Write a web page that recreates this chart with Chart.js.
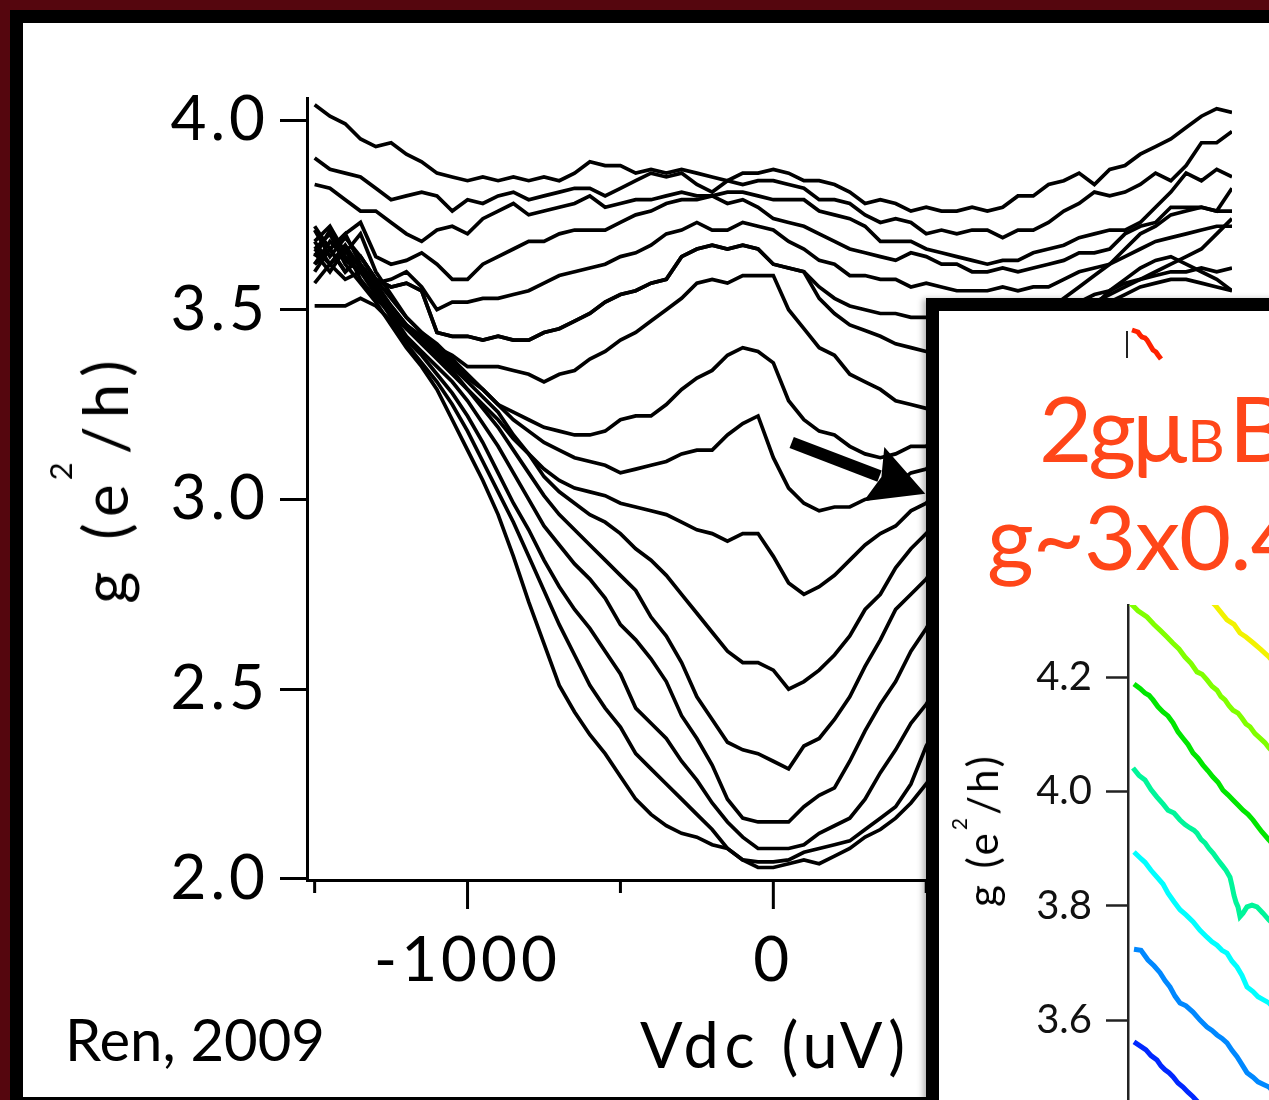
<!DOCTYPE html>
<html>
<head>
<meta charset="utf-8">
<script src="https://cdn.jsdelivr.net/npm/chart.js@4.4.0/dist/chart.umd.min.js"></script>
<style>
html,body{margin:0;padding:0;width:1269px;height:1100px;overflow:hidden;background:#55060e;font-family:Lato,sans-serif;}
#frame{position:absolute;left:10px;top:10px;width:1300px;height:1090px;background:#000;}
#paper{position:absolute;left:23px;top:23px;width:1300px;height:1074px;background:#fff;}
#main{position:absolute;left:0;top:0;}
#inset{position:absolute;left:926px;top:298px;width:420px;height:900px;border:13px solid #000;background:#fff;box-shadow:-4px 0 6px -1px rgba(0,0,0,0.3);}
#insetCanvas{position:absolute;left:0;top:0;}
#topCanvas{position:absolute;left:161px;top:11px;}
.t{position:absolute;white-space:nowrap;line-height:1;color:#000;}
.sup{font-size:0.5em;position:relative;top:-1.8em;margin-left:-4px;}
.sup2{font-size:0.5em;position:relative;top:-1.5em;}
.red{color:#ff4619;}
</style>
</head>
<body>
<div id="frame"></div>
<div id="paper"></div>
<canvas id="main" width="1269" height="1100"></canvas>
<div class="t" id="ytitle" style="left:104px;top:478px;font-size:62px;letter-spacing:8px;transform:translate(-50%,-50%) rotate(-90deg);">g (e<span class="sup">2</span>/h)</div>
<div class="t" style="left:640px;top:1012px;font-size:63px;letter-spacing:5.5px;">Vdc (uV)</div>
<div class="t" style="left:65px;top:1010px;font-size:58px;">Ren, 2009</div>
<div id="inset">
  <canvas id="insetCanvas" width="600" height="800"></canvas>
  <canvas id="topCanvas" width="200" height="45"></canvas>
</div>
<div class="t red" style="left:1039px;top:381px;font-size:92px;letter-spacing:-4px;">2gμ<span style="font-size:58px;letter-spacing:0;margin:0 4px 0 4px;">B</span>B</div>
<div class="t red" style="left:987px;top:490px;font-size:90px;letter-spacing:-1px;">g~3x0.4</div>
<div class="t" style="left:982px;top:830px;font-size:42px;letter-spacing:3px;transform:translate(-50%,-50%) rotate(-90deg);">g (e<span class="sup2">2</span>/h)</div>
<script>
// ---------------- main chart data ----------------
const xs = [-1500,-1450,-1400,-1350,-1300,-1250,-1200,-1150,-1100,-1050,-1000,-950,-900,-850,-800,-750,-700,-650,-600,-550,-500,-450,-400,-350,-300,-250,-200,-150,-100,-50,0,50,100,150,200,250,300,350,400,450,500,550,600,650,700,750,800,850,900,950,1000,1050,1100,1150,1200,1250,1300,1350,1400,1450,1500];

const curveA = [4.04,4.01,3.99,3.95,3.93,3.94,3.91,3.89,3.86,3.85, 3.84,3.85,3.84,3.85,3.84,3.85,3.84,3.86,3.89,3.88, 3.88,3.86,3.87,3.86,3.87,3.86,3.85,3.84,3.86,3.86, 3.87,3.86,3.84,3.84,3.83,3.81,3.78,3.79,3.78,3.76, 3.77,3.76,3.76,3.77,3.76,3.77,3.80,3.80,3.83,3.84, 3.86,3.83,3.87,3.88,3.91,3.93,3.95,3.98,4.01,4.03, 4.02];
const curveB = [3.90,3.87,3.86,3.85,3.82,3.79,3.80,3.81,3.80,3.76, 3.79,3.78,3.80,3.81,3.79,3.80,3.81,3.82,3.82,3.80, 3.82,3.84,3.86,3.85,3.86,3.83,3.81,3.84,3.83,3.84, 3.84,3.83,3.82,3.79,3.79,3.78,3.75,3.73,3.74,3.73, 3.70,3.71,3.70,3.71,3.71,3.69,3.71,3.71,3.73,3.76, 3.78,3.81,3.80,3.81,3.83,3.86,3.84,3.88,3.94,3.94, 3.97];
const curveC = [3.83,3.82,3.79,3.76,3.76,3.73,3.70,3.68,3.71,3.72, 3.70,3.74,3.76,3.78,3.75,3.76,3.77,3.78,3.80,3.77, 3.78,3.79,3.79,3.80,3.81,3.80,3.80,3.81,3.81,3.80, 3.79,3.79,3.79,3.76,3.75,3.74,3.72,3.68,3.68,3.68, 3.66,3.65,3.64,3.63,3.62,3.63,3.63,3.65,3.66,3.67, 3.69,3.70,3.71,3.71,3.73,3.77,3.81,3.86,3.84,3.87, 3.85];
const curveD = [3.72,3.66,3.70,3.73,3.64,3.62,3.63,3.65,3.62,3.58, 3.58,3.62,3.64,3.66,3.68,3.68,3.70,3.71,3.71,3.71, 3.73,3.75,3.76,3.78,3.79,3.79,3.80,3.78,3.79,3.77, 3.74,3.73,3.72,3.70,3.68,3.66,3.65,3.64,3.63,3.65, 3.64,3.62,3.62,3.60,3.60,3.61,3.60,3.61,3.62,3.63, 3.65,3.65,3.66,3.70,3.72,3.73,3.77,3.77,3.77,3.76, 3.82];
const curveE = [3.57,3.62,3.58,3.60,3.57,3.58,3.60,3.56,3.50,3.52, 3.52,3.53,3.53,3.54,3.55,3.57,3.59,3.60,3.61,3.62, 3.64,3.65,3.67,3.70,3.71,3.73,3.71,3.71,3.73,3.72, 3.71,3.68,3.66,3.63,3.62,3.59,3.59,3.58,3.58,3.56, 3.57,3.56,3.55,3.55,3.55,3.56,3.55,3.56,3.56,3.58, 3.60,3.61,3.62,3.66,3.70,3.72,3.75,3.76,3.77,3.76, 3.76];
const curveF = [3.62,3.66,3.60,3.64,3.58,3.56,3.57,3.55,3.44,3.43, 3.43,3.42,3.43,3.42,3.42,3.44,3.45,3.47,3.49,3.52, 3.54,3.55,3.57,3.58,3.64,3.66,3.67,3.66,3.67,3.66, 3.62,3.61,3.60,3.56,3.53,3.51,3.50,3.49,3.49,3.48, 3.48,3.47,3.47,3.46,3.46,3.47,3.47,3.48,3.49,3.50, 3.51,3.52,3.54,3.56,3.58,3.60,3.62,3.64,3.66,3.70, 3.74];
const curveF2 = [3.62,3.66,3.60,3.64,3.58,3.56,3.57,3.55,3.44,3.43, 3.43,3.42,3.43,3.42,3.42,3.44,3.45,3.47,3.49,3.52, 3.54,3.55,3.57,3.58,3.64,3.66,3.67,3.66,3.67,3.66, 3.62,3.61,3.60,3.53,3.49,3.46,3.445,3.43,3.41,3.40, 3.39,3.38,3.38,3.38,3.39,3.40,3.41,3.42,3.43,3.44, 3.45,3.46,3.47,3.48,3.49,3.50,3.50,3.51,3.51,3.52, 3.52];
const curveG = [3.65,3.60,3.66,3.58,3.53,3.49,3.45,3.42,3.40,3.38, 3.35,3.35,3.35,3.34,3.33,3.31,3.33,3.34,3.37,3.39, 3.42,3.44,3.47,3.50,3.53,3.57,3.58,3.57,3.59,3.59, 3.59,3.50,3.45,3.40,3.38,3.33,3.31,3.29,3.26,3.25, 3.24,3.27,3.30,3.34,3.37,3.40,3.43,3.46,3.48,3.50, 3.52,3.54,3.55,3.57,3.58,3.59,3.60,3.60,3.61,3.60, 3.61];
const curveH = [3.68,3.72,3.65,3.70,3.60,3.54,3.48,3.44,3.40,3.36, 3.32,3.29,3.25,3.23,3.21,3.19,3.18,3.17,3.17,3.18, 3.21,3.22,3.22,3.25,3.29,3.32,3.34,3.38,3.40,3.39, 3.36,3.26,3.21,3.18,3.17,3.14,3.12,3.11,3.12,3.14, 3.14,3.19,3.24,3.29,3.34,3.38,3.42,3.46,3.50,3.53, 3.56,3.59,3.62,3.64,3.66,3.68,3.69,3.70,3.71,3.72, 3.72];
const curveI = [3.71,3.64,3.69,3.64,3.58,3.53,3.48,3.44,3.41,3.37, 3.33,3.29,3.25,3.21,3.18,3.15,3.13,3.11,3.10,3.09, 3.07,3.08,3.09,3.10,3.12,3.13,3.13,3.17,3.20,3.22, 3.11,3.03,2.99,2.97,2.98,2.98,3.00,3.01,3.04,3.07, 3.08,3.13,3.18,3.22,3.26,3.30,3.33,3.35,3.37,3.39, 3.40,3.42,3.44,3.46,3.47,3.48,3.49,3.50,3.51,3.51, 3.52];
const curveJ = [3.66,3.62,3.67,3.61,3.56,3.51,3.46,3.42,3.38,3.34, 3.29,3.25,3.21,3.16,3.12,3.08,3.05,3.03,3.02,3.01, 2.99,2.98,2.97,2.96,2.94,2.92,2.91,2.89,2.91,2.91, 2.85,2.78,2.75,2.77,2.80,2.84,2.88,2.91,2.93,2.97, 2.99,3.04,3.09,3.15,3.20,3.26,3.31,3.36,3.40,3.43, 3.46,3.49,3.52,3.54,3.56,3.57,3.58,3.58,3.57,3.56, 3.55];
const curveK = [3.60,3.66,3.70,3.62,3.57,3.51,3.46,3.43,3.39,3.35, 3.31,3.27,3.23,3.17,3.12,3.06,3.02,2.99,2.96,2.94, 2.91,2.87,2.84,2.80,2.75,2.70,2.65,2.60,2.57,2.57, 2.55,2.50,2.52,2.55,2.59,2.64,2.71,2.75,2.82,2.87, 2.91,2.96,3.02,3.08,3.14,3.20,3.26,3.32,3.37,3.42, 3.47,3.51,3.55,3.58,3.61,3.63,3.64,3.62,3.60,3.58, 3.55];
const curveL = [3.62,3.68,3.64,3.60,3.56,3.50,3.45,3.41,3.37,3.33, 3.29,3.24,3.19,3.13,3.07,3.01,2.96,2.92,2.88,2.84, 2.80,2.76,2.69,2.64,2.57,2.48,2.42,2.36,2.34,2.33, 2.31,2.29,2.35,2.37,2.42,2.48,2.56,2.63,2.71,2.75, 2.79,2.85,2.91,2.97,3.03,3.09,3.14,3.19,3.23,3.27, 3.30,3.34,3.38,3.41,3.44,3.46,3.48,3.49,3.50,3.51, 3.52];
const curveM = [3.68,3.62,3.66,3.61,3.55,3.49,3.43,3.39,3.35,3.31, 3.26,3.20,3.14,3.07,3.00,2.93,2.88,2.83,2.79,2.74, 2.67,2.63,2.58,2.52,2.43,2.37,2.30,2.21,2.16,2.15, 2.15,2.15,2.19,2.22,2.24,2.31,2.39,2.46,2.52,2.60, 2.66,2.73,2.80,2.87,2.94,3.00,3.06,3.12,3.17,3.23, 3.28,3.32,3.36,3.39,3.42,3.44,3.46,3.48,3.49,3.50, 3.50];
const curveN = [3.64,3.71,3.63,3.60,3.54,3.48,3.42,3.38,3.33,3.28, 3.22,3.15,3.07,2.99,2.92,2.84,2.77,2.71,2.66,2.60, 2.54,2.45,2.41,2.37,2.31,2.26,2.20,2.15,2.11,2.08, 2.08,2.08,2.09,2.12,2.14,2.16,2.21,2.28,2.34,2.41, 2.46,2.53,2.60,2.67,2.74,2.81,2.87,2.93,2.99,3.07, 3.14,3.19,3.24,3.28,3.32,3.35,3.38,3.41,3.43,3.45, 3.47];
const curveO = [3.51,3.51,3.51,3.53,3.51,3.47,3.41,3.36,3.31,3.25, 3.18,3.10,3.02,2.94,2.85,2.76,2.67,2.59,2.51,2.45, 2.40,2.33,2.29,2.25,2.21,2.17,2.13,2.08,2.05,2.045, 2.045,2.05,2.07,2.08,2.09,2.10,2.13,2.16,2.19,2.25, 2.35,2.42,2.49,2.56,2.63,2.71,2.79,2.87,2.93,2.99, 3.05,3.10,3.15,3.19,3.23,3.27,3.30,3.33,3.36,3.38, 3.40];
const curveP = [3.66,3.70,3.62,3.57,3.52,3.46,3.40,3.35,3.29,3.21, 3.13,3.05,2.96,2.85,2.73,2.62,2.51,2.44,2.38,2.33, 2.27,2.21,2.17,2.14,2.12,2.11,2.09,2.08,2.05,2.03, 2.03,2.04,2.05,2.04,2.06,2.08,2.11,2.13,2.16,2.20, 2.25,2.31,2.38,2.45,2.53,2.61,2.70,2.78,2.86,2.93, 3.00,3.05,3.10,3.14,3.18,3.22,3.25,3.28,3.31,3.33, 3.35];

const xMajorTicks = [-1000, 0, 1000];
const xMinorTicks = [-1500, -500, 500, 1500];
const yTicks = [2.0, 2.5, 3.0, 3.5, 4.0];
const arrowTail = [60, 3.15];
const arrowTip = [497, 3.015];

// ---------------- inset data ----------------
const insetTicks = [3.6, 3.8, 4.0, 4.2];
const yellowX = [77, 87, 99, 106, 112, 118, 125, 133, 141, 162, 192];
const yellowY = [4.343, 4.326, 4.300, 4.292, 4.277, 4.270, 4.260, 4.248, 4.235, 4.195, 4.160];
const limeX = [2, 10, 19, 26, 32, 39, 45, 51, 57, 63, 69, 74, 79, 84, 89, 93, 97, 101, 105, 110, 114, 118, 122, 127, 132, 137, 141, 162];
const limeY = [4.330, 4.316, 4.305, 4.292, 4.282, 4.270, 4.259, 4.249, 4.235, 4.224, 4.209, 4.205, 4.195, 4.184, 4.177, 4.166, 4.160, 4.150, 4.142, 4.137, 4.128, 4.118, 4.113, 4.101, 4.093, 4.085, 4.076, 4.037];
const greenX = [6, 12, 17, 21, 25, 30, 35, 40, 45, 50, 55, 60, 65, 70, 75, 80, 85, 90, 95, 100, 105, 110, 115, 120, 125, 130, 134, 141, 162];
const greenY = [4.188, 4.180, 4.172, 4.168, 4.160, 4.148, 4.139, 4.132, 4.120, 4.104, 4.093, 4.082, 4.067, 4.058, 4.046, 4.036, 4.025, 4.016, 4.002, 3.994, 3.985, 3.976, 3.967, 3.960, 3.950, 3.938, 3.929, 3.915, 3.871];
const springX = [5, 11, 17, 23, 29, 35, 40, 46, 52, 57, 62, 66, 69, 73, 77, 81, 85, 90, 94, 98, 102, 104, 106, 108, 110, 112, 115, 119, 124, 129, 135, 141, 162];
const springY = [4.041, 4.028, 4.020, 4.003, 3.990, 3.978, 3.967, 3.962, 3.950, 3.942, 3.936, 3.932, 3.927, 3.916, 3.910, 3.900, 3.892, 3.880, 3.871, 3.862, 3.850, 3.835, 3.818, 3.806, 3.798, 3.781, 3.787, 3.798, 3.801, 3.798, 3.787, 3.775, 3.740];
const cyanX = [6, 12, 17, 23, 29, 35, 40, 46, 52, 58, 65, 72, 79, 84, 89, 94, 99, 104, 109, 114, 119, 125, 130, 136, 141, 162];
const cyanY = [3.894, 3.884, 3.876, 3.862, 3.850, 3.838, 3.822, 3.807, 3.793, 3.784, 3.772, 3.757, 3.745, 3.737, 3.731, 3.722, 3.717, 3.703, 3.693, 3.678, 3.658, 3.650, 3.641, 3.635, 3.630, 3.592];
const azureX = [6, 13, 20, 26, 32, 37, 42, 47, 52, 58, 65, 72, 79, 84, 89, 94, 99, 104, 109, 114, 119, 125, 130, 136, 141, 162];
const azureY = [3.724, 3.722, 3.705, 3.695, 3.683, 3.669, 3.658, 3.642, 3.630, 3.625, 3.614, 3.600, 3.588, 3.582, 3.574, 3.568, 3.560, 3.547, 3.536, 3.522, 3.508, 3.500, 3.492, 3.487, 3.483, 3.443];
const blueX = [6, 12, 18, 23, 29, 33, 37, 41, 45, 50, 55, 60, 65, 77];
const blueY = [3.562, 3.555, 3.548, 3.538, 3.530, 3.520, 3.513, 3.508, 3.501, 3.490, 3.483, 3.474, 3.466, 3.443];
const redX = [5, 8, 11, 13, 15, 18, 20, 23, 26, 29, 31, 34];
const redY = [27, 26, 25, 22, 20, 19, 17, 12, 7, 5, 2, -2];

Chart.defaults.font.family = 'Lato, sans-serif';
Chart.defaults.color = '#000';

function pts(xArr, yArr){ return yArr.map((v,i)=>({x:xArr[i], y:v})); }
function noPadV(s){ s.paddingTop = 0; s.paddingBottom = 0; }
function noPadH(s){ s.paddingLeft = 0; s.paddingRight = 0; }

const mainCurves = [curveA,curveB,curveC,curveD,curveE,curveF,curveF2,curveG,curveH,curveI,curveJ,curveK,curveL,curveM,curveN,curveO,curveP];

const spacing = {
  id:'spacing',
  beforeDraw(chart){ chart.ctx.letterSpacing = '4px'; },
  afterDraw(chart){ chart.ctx.letterSpacing = '0px'; }
};

const decor = {
  id:'decor',
  afterDraw(chart){
    const {ctx, scales:{x, y}, chartArea} = chart;
    ctx.save();
    ctx.strokeStyle = '#000';
    ctx.lineWidth = 3;
    const b = chartArea.bottom;
    xMajorTicks.forEach(v=>{ const p = x.getPixelForValue(v); ctx.beginPath(); ctx.moveTo(p, b); ctx.lineTo(p, b+29); ctx.stroke(); });
    xMinorTicks.forEach(v=>{ const p = x.getPixelForValue(v); ctx.beginPath(); ctx.moveTo(p, b); ctx.lineTo(p, b+13); ctx.stroke(); });
    // arrow
    const x0 = x.getPixelForValue(arrowTail[0]), y0 = y.getPixelForValue(arrowTail[1]);
    const x1 = x.getPixelForValue(arrowTip[0]), y1 = y.getPixelForValue(arrowTip[1]);
    const dx = x1-x0, dy = y1-y0, len = Math.hypot(dx,dy), ux = dx/len, uy = dy/len;
    const hl = 55, hw = 29;
    const bx = x1-ux*hl, by = y1-uy*hl;
    ctx.lineWidth = 12; ctx.lineCap = 'butt';
    ctx.beginPath(); ctx.moveTo(x0,y0); ctx.lineTo(bx+ux*6, by+uy*6); ctx.stroke();
    ctx.fillStyle = '#000';
    ctx.beginPath(); ctx.moveTo(x1,y1); ctx.lineTo(bx - uy*hw, by + ux*hw); ctx.lineTo(bx + ux*8, by + uy*8); ctx.lineTo(bx + uy*hw, by - ux*hw); ctx.closePath(); ctx.fill();
    ctx.restore();
  }
};

new Chart(document.getElementById('main'), {
  type:'line',
  data:{ datasets: mainCurves.map(c=>({ data: pts(xs, c), borderColor:'#000', borderWidth:3.7, pointRadius:0, tension:0, fill:false, borderJoinStyle:'miter' })) },
  options:{
    responsive:false, animation:false, devicePixelRatio:1,
    layout:{ padding:{ top:98, right:37, left:0, bottom:0 } },
    plugins:{ legend:{display:false}, tooltip:{enabled:false} },
    scales:{
      x:{ type:'linear', min:-1525, max:1500,
        afterFit(s){ s.height = 220; noPadH(s); },
        afterBuildTicks(s){ s.ticks = xMajorTicks.map(v=>({value:v})); },
        grid:{ display:false, drawTicks:false },
        border:{ display:true, color:'#000', width:3 },
        ticks:{ font:{size:62}, color:'#000', padding:44, autoSkip:false, maxRotation:0, callback:v=>String(v) } },
      y:{ type:'linear', min:1.997, max:4.058,
        afterFit(s){ s.width = 307; noPadV(s); },
        afterBuildTicks(s){ s.ticks = yTicks.map(v=>({value:v})); },
        grid:{ display:true, drawOnChartArea:false, drawTicks:true, tickLength:27, tickWidth:3, tickColor:'#000' },
        border:{ display:true, color:'#000', width:3 },
        ticks:{ font:{size:62}, color:'#000', padding:11, callback:v=>Number(v).toFixed(1) } }
    }
  },
  plugins:[spacing, decor]
});

// ---------------- inset chart ----------------
const insetSeries = [
  {x:yellowX, y:yellowY, c:'#f2f200'},
  {x:limeX, y:limeY, c:'#80ff00'},
  {x:greenX, y:greenY, c:'#00e600'},
  {x:springX, y:springY, c:'#00f59a'},
  {x:cyanX, y:cyanY, c:'#00ffff'},
  {x:azureX, y:azureY, c:'#0088ff'},
  {x:blueX, y:blueY, c:'#0028ff'}
];
new Chart(document.getElementById('insetCanvas'), {
  type:'line',
  data:{ datasets: insetSeries.map(s=>({ data: pts(s.x, s.y), borderColor:s.c, borderWidth:5, pointRadius:0, tension:0 })) },
  options:{
    responsive:false, animation:false, devicePixelRatio:1,
    layout:{ padding:{ top:294, right:0, left:0, bottom:0 } },
    plugins:{ legend:{display:false}, tooltip:{enabled:false} },
    scales:{
      x:{ type:'linear', min:0, max:411, display:false },
      y:{ type:'linear', min:3.441, max:4.326,
        afterFit(s){ s.width = 189; noPadV(s); },
        afterBuildTicks(s){ s.ticks = insetTicks.map(v=>({value:v})); },
        grid:{ display:true, drawOnChartArea:false, drawTicks:true, tickLength:22, tickWidth:2.5, tickColor:'#222' },
        border:{ display:true, color:'#222', width:2.5 },
        ticks:{ font:{size:40}, color:'#111', padding:14, callback:v=>Number(v).toFixed(1) } }
    }
  }
});

// ---------------- tiny top panel in inset ----------------
new Chart(document.getElementById('topCanvas'), {
  type:'line',
  data:{ datasets:[{ data: pts(redX, redY), borderColor:'#ff2200', borderWidth:5, pointRadius:0, tension:0, clip:false }] },
  options:{
    responsive:false, animation:false, devicePixelRatio:1,
    layout:{ padding:{ top:10, bottom:10, left:0, right:0 } },
    plugins:{ legend:{display:false}, tooltip:{enabled:false} },
    scales:{
      x:{ type:'linear', min:0, max:173, display:false },
      y:{ type:'linear', min:0, max:25,
        afterFit(s){ s.width = 27; noPadV(s); },
        grid:{ display:false },
        border:{ display:true, color:'#222', width:2 },
        ticks:{ display:false } }
    }
  }
});
</script>
</body>
</html>
